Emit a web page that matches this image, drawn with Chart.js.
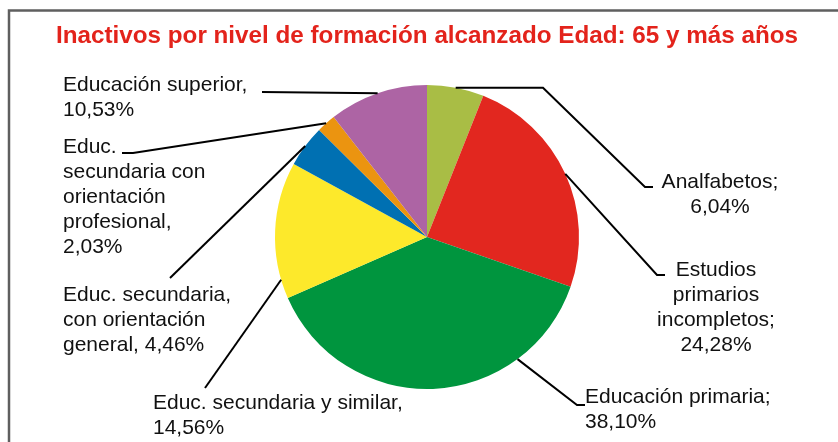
<!DOCTYPE html>
<html>
<head>
<meta charset="utf-8">
<script src="https://cdn.jsdelivr.net/npm/chart.js@4"></script>
<style>
  body { margin: 0; background: #fff; }
  canvas { display: block; }
</style>
</head>
<body>
<canvas id="pieChart" width="838" height="442"></canvas>
<script>
// data
const categories = [
    'Analfabetos',
    'Estudios primarios incompletos',
    'Educación primaria',
    'Educ. secundaria y similar',
    'Educ. secundaria, con orientación general',
    'Educ. secundaria con orientación profesional',
    'Educación superior'
];
const shares = [6.04, 24.28, 38.10, 14.56, 4.46, 2.03, 10.53];
const sliceColors = ['#a9bd45', '#e2271f', '#00953e', '#fde92b', '#0070b2', '#eb9410', '#ad64a4'];

// how each label wraps, {p} is replaced by the share
const labelWraps = [
    ['Analfabetos;', '{p}'],
    ['Estudios', 'primarios', 'incompletos;', '{p}'],
    ['Educación primaria;', '{p}'],
    ['Educ. secundaria y similar,', '{p}'],
    ['Educ. secundaria,', 'con orientación', 'general, {p}'],
    ['Educ.', 'secundaria con', 'orientación', 'profesional,', '{p}'],
    ['Educación superior,', '{p}']
];

const titleText = 'Inactivos por nivel de formación alcanzado Edad: 65 y más años';

// label placement: text x / first line y / alignment, where on the slice the leader starts,
// and the leader path after the arc point ('h' = keep going flat at the anchor's height first)
const labelLayout = [
    { x: 720, y: 182, align: 'center', frac: 0.5, flatTo: 543, path: [[645, 187], [653, 187]] },
    { x: 716, y: 270, align: 'center', frac: 0.5, path: [[657, 275], [665, 275]] },
    { x: 585, y: 397, align: 'left', frac: 0.25, path: [[577, 405], [585, 405]] },
    { x: 153, y: 403, align: 'left', frac: 0.14, path: [[205, 388]] },
    { x: 63, y: 295, align: 'left', frac: 0.5, path: [[170, 278]] },
    { x: 63, y: 147, align: 'left', frac: 0.5, path: [[133, 153], [122, 153]] },
    { x: 63, y: 85, align: 'left', frac: 0.5, path: [[262, 92]] }
];

function pct(v) {
    return v.toFixed(2).replace('.', ',') + '%';
}

const framePlugin = {
    id: 'frameAndTitle',
    beforeDraw(chart) {
        const c = chart.ctx;
        c.save();
        c.strokeStyle = '#5f5f5f';
        c.lineWidth = 2.5;
        c.beginPath();
        c.moveTo(9, 442);
        c.lineTo(9, 10.5);
        c.lineTo(838, 10.5);
        c.stroke();

        // condensed bold title
        c.font = 'bold 24px "Liberation Sans", Arial, sans-serif';
        c.fillStyle = '#e3231b';
        c.textBaseline = 'alphabetic';
        c.textAlign = 'center';
        const w = c.measureText(titleText).width;
        const sx = 742 / w;
        c.translate(427, 43);
        c.scale(sx, 1);
        c.fillText(titleText, 0, 0);
        c.restore();
    }
};

const labelPlugin = {
    id: 'leaderLabels',
    afterDatasetsDraw(chart) {
        const c = chart.ctx;
        const arcs = chart.getDatasetMeta(0).data;
        c.save();
        c.strokeStyle = '#000';
        c.lineWidth = 2;
        c.lineJoin = 'miter';
        arcs.forEach((arc, i) => {
            const lay = labelLayout[i];
            const p = arc.getProps(['x', 'y', 'startAngle', 'endAngle', 'outerRadius'], true);
            const a = p.startAngle + (p.endAngle - p.startAngle) * lay.frac;
            const ax = p.x + Math.cos(a) * p.outerRadius;
            const ay = p.y + Math.sin(a) * p.outerRadius;
            c.beginPath();
            c.moveTo(ax, ay);
            if (lay.flatTo) c.lineTo(lay.flatTo, ay);
            lay.path.forEach(pt => c.lineTo(pt[0], pt[1]));
            c.stroke();

            c.fillStyle = '#111';
            c.font = '21px "Liberation Sans", Arial, sans-serif';
            c.textAlign = lay.align;
            c.textBaseline = 'middle';
            labelWraps[i].forEach((line, k) => {
                c.fillText(line.replace('{p}', pct(shares[i])), lay.x, lay.y + k * 25);
            });
        });
        c.restore();
    }
};

window.onload = function() {
    const ctx = document.getElementById('pieChart').getContext('2d');
    new Chart(ctx, {
        type: 'pie',
        data: {
            labels: categories,
            datasets: [{
                data: shares,
                backgroundColor: sliceColors,
                borderWidth: 0,
                offset: 0,
                hoverOffset: 0
            }]
        },
        options: {
            responsive: false,
            animation: false,
            events: [],
            layout: { padding: { top: 85, bottom: 53, left: 100, right: 84 } },
            plugins: {
                legend: { display: false },
                title: { display: false },
                tooltip: { enabled: false }
            }
        },
        plugins: [framePlugin, labelPlugin]
    });
};
</script>
</body>
</html>
